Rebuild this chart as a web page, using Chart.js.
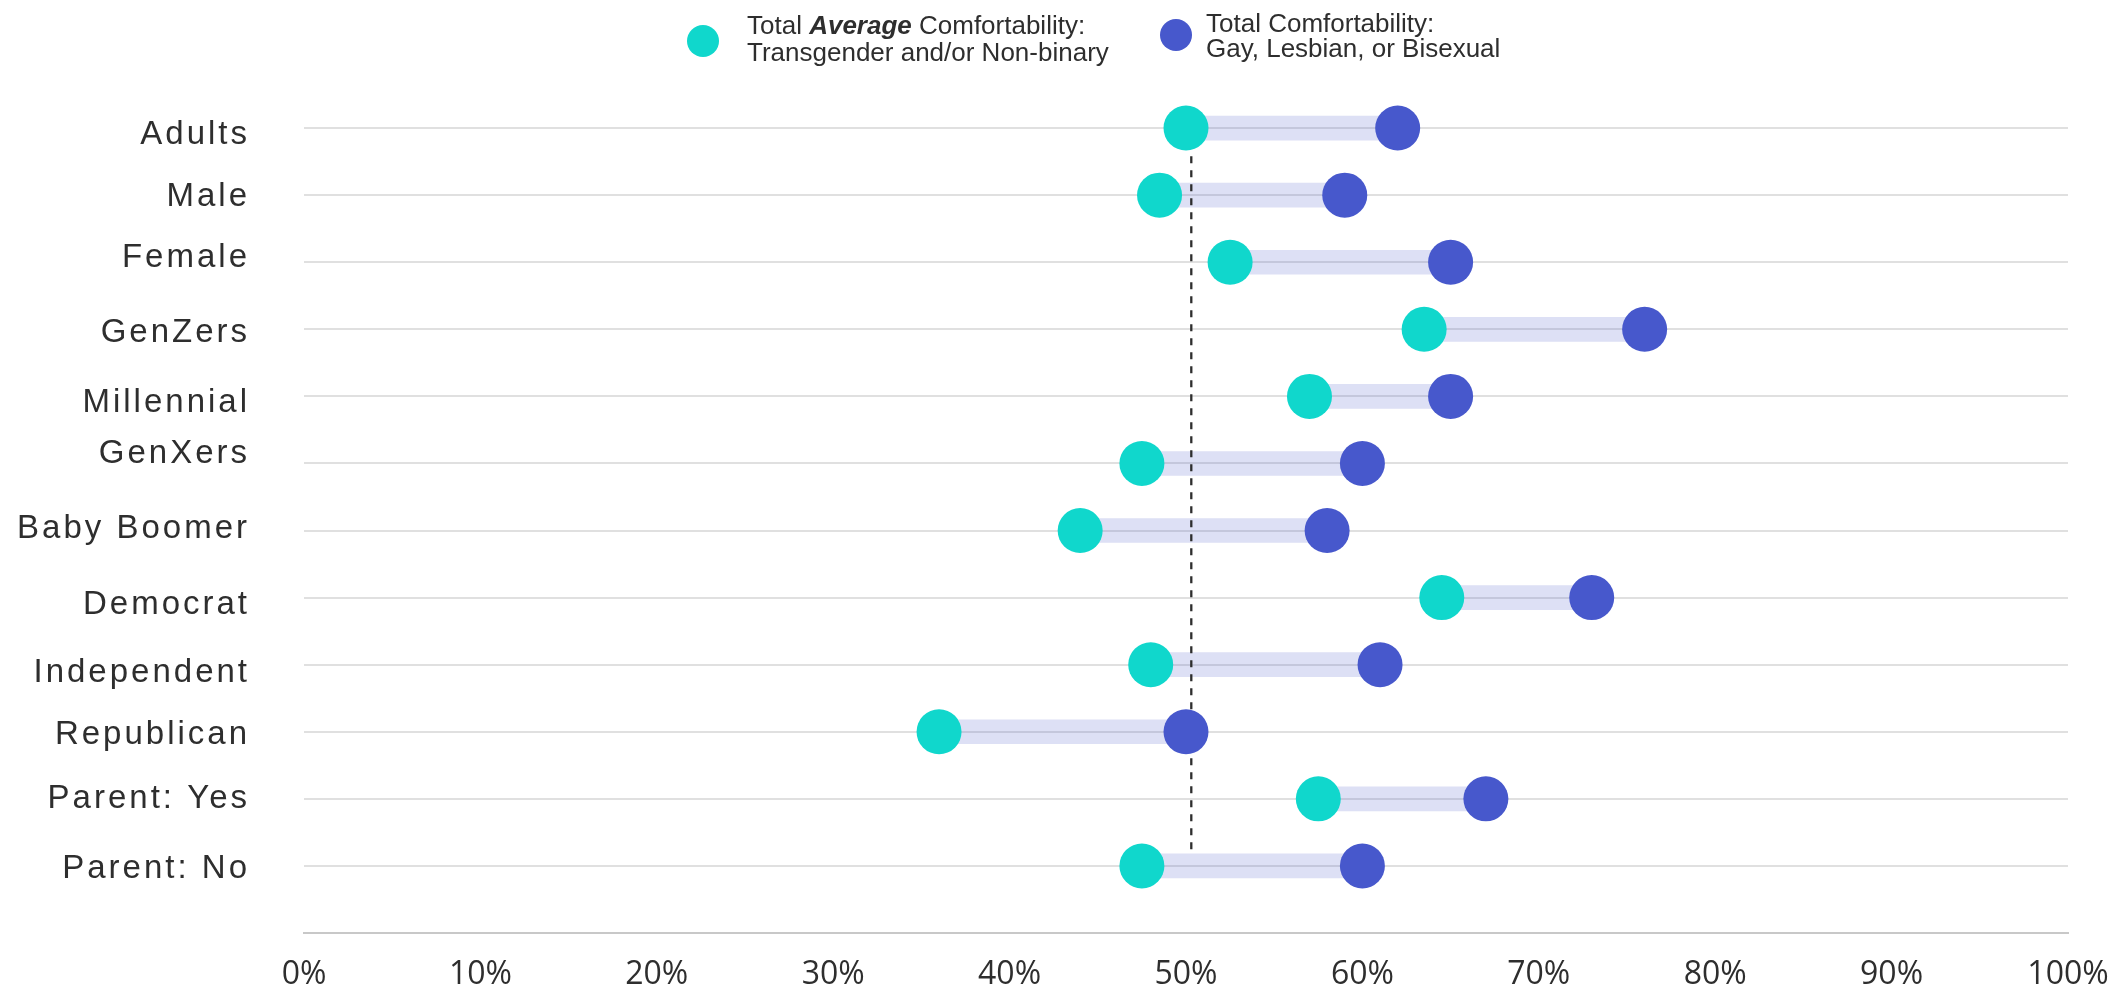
<!DOCTYPE html>
<html>
<head>
<meta charset="utf-8">
<title>Comfortability by group</title>
<script src="https://cdn.jsdelivr.net/npm/chart.js@4.4.1/dist/chart.umd.min.js"></script>
<style>
  html, body { margin: 0; padding: 0; background: #fff; }
  #wrap { width: 2115px; height: 989px; position: relative; }
</style>
</head>
<body>
<div id="wrap"><canvas id="chart"></canvas></div>
<script>
// Data
const groups = ["Adults", "Male", "Female", "GenZers", "Millennial", "GenXers", "Baby Boomer", "Democrat", "Independent", "Republican", "Parent: Yes", "Parent: No"];
const transAvg = [50, 48.5, 52.5, 63.5, 57, 47.5, 44, 64.5, 48, 36, 57.5, 47.5];
const gayLesBi = [62, 59, 65, 76, 65, 60, 58, 73, 61, 50, 67, 60];
const xTickValues = [0, 10, 20, 30, 40, 50, 60, 70, 80, 90, 100];
const refValue = 50.3;
const refSpan = [0.42, 10.76];

// Colors
const TEAL = "#10d7cc";
const BLUE = "#4758cc";
const TEXT = "#2e2e2e";

// small vertical nudges of the row labels, as in the original
const labelNudge = [4, -1, -7, 1, 4, -12, -5, 4, 5, 0, -3, 0];

// Row labels (letter spaced) + custom legend
const extras = {
  id: "extras",
  afterDraw(chart) {
    const ctx = chart.ctx;
    const yScale = chart.scales.y;

    ctx.save();
    ctx.fillStyle = TEXT;
    ctx.font = '33px "Liberation Sans", Arial, sans-serif';
    ctx.letterSpacing = "3px";
    ctx.textAlign = "right";
    ctx.textBaseline = "alphabetic";
    groups.forEach((g, i) => {
      ctx.fillText(g, 250, yScale.getPixelForValue(i) + labelNudge[i] + 12);
    });
    ctx.restore();

    // legend
    ctx.save();
    ctx.textAlign = "left";
    ctx.textBaseline = "alphabetic";
    ctx.fillStyle = TEAL;
    ctx.beginPath();
    ctx.arc(703, 41, 16, 0, Math.PI * 2);
    ctx.fill();
    ctx.fillStyle = BLUE;
    ctx.beginPath();
    ctx.arc(1176, 35, 16, 0, Math.PI * 2);
    ctx.fill();

    const reg = '26px "Liberation Sans", Arial, sans-serif';
    const bold = 'italic bold 26px "Liberation Sans", Arial, sans-serif';
    ctx.fillStyle = TEXT;
    let x = 747;
    ctx.font = reg;
    ctx.fillText("Total ", x, 34);
    x += ctx.measureText("Total ").width;
    ctx.font = bold;
    ctx.fillText("Average", x, 34);
    x += ctx.measureText("Average").width;
    ctx.font = reg;
    ctx.fillText(" Comfortability:", x, 34);
    ctx.fillText("Transgender and/or Non-binary", 747, 61);

    ctx.fillText("Total Comfortability:", 1206, 32);
    ctx.fillText("Gay, Lesbian, or Bisexual", 1206, 57);
    ctx.restore();
  }
};

new Chart(document.getElementById("chart"), {
  type: "bar",
  data: {
    datasets: [
      {
        type: "line",
        label: "Total Average Comfortability: Transgender and/or Non-binary",
        data: groups.map((g, i) => ({ x: transAvg[i], y: i })),
        showLine: false,
        pointRadius: 22.5,
        pointBorderWidth: 0,
        pointBackgroundColor: TEAL,
        order: 1
      },
      {
        type: "line",
        label: "Total Comfortability: Gay, Lesbian, or Bisexual",
        data: groups.map((g, i) => ({ x: gayLesBi[i], y: i })),
        showLine: false,
        pointRadius: 22.5,
        pointBorderWidth: 0,
        pointBackgroundColor: BLUE,
        order: 0
      },
      {
        type: "line",
        label: "average",
        data: refSpan.map(v => ({ x: refValue, y: v })),
        borderColor: "#2e2e2e",
        borderWidth: 2.3,
        borderDash: [7, 7],
        pointRadius: 0,
        order: 2
      },
      {
        type: "bar",
        label: "gap",
        indexAxis: "y",
        data: groups.map((g, i) => ({ y: i, x: [transAvg[i], gayLesBi[i]] })),
        backgroundColor: "rgba(72, 88, 204, 0.19)",
        borderWidth: 0,
        borderSkipped: false,
        barThickness: 24,
        order: 3
      }
    ]
  },
  options: {
    responsive: true,
    maintainAspectRatio: false,
    animation: false,
    layout: { padding: { left: 304, right: 47, top: 61, bottom: 0 } },
    plugins: {
      legend: { display: false },
      tooltip: { enabled: false }
    },
    scales: {
      x: {
        type: "linear",
        position: "bottom",
        min: 0,
        max: 100,
        offset: false,
        afterBuildTicks: scale => { scale.ticks = xTickValues.map(v => ({ value: v })); },
        afterFit: scale => {
          scale.height = 56;
          scale.paddingLeft = 0;
          scale.paddingRight = 0;
        },
        grid: { display: false, drawTicks: false, offset: false },
        border: { display: true, color: "#c8c8c8", width: 2 },
        ticks: {
          padding: 26,
          color: TEXT,
          font: { family: "'Open Sans', sans-serif", size: 32, lineHeight: 1 },
          callback: v => v + "%"
        }
      },
      y: {
        type: "linear",
        min: -1,
        max: 12,
        reverse: true,
        offset: false,
        afterBuildTicks: scale => { scale.ticks = groups.map((g, i) => ({ value: i })); },
        grid: { color: "#e0e0e0", lineWidth: 2, drawTicks: false, offset: false },
        border: { display: false },
        ticks: { display: false }
      }
    }
  },
  plugins: [extras]
});
</script>
</body>
</html>
